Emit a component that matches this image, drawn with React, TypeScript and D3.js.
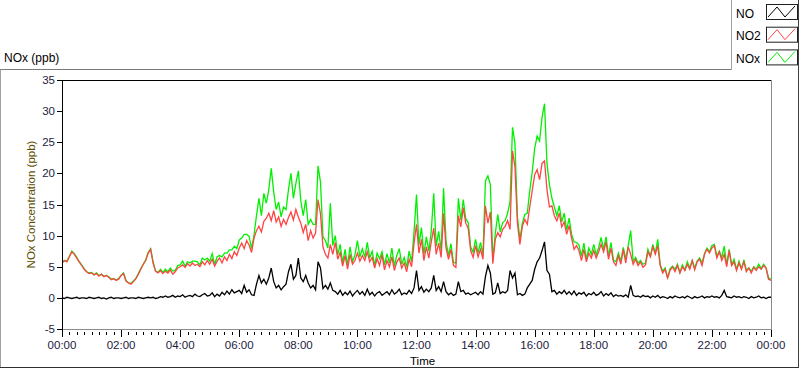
import React from 'react';
import * as d3 from 'd3';

// Sampling step of the series (minutes from 00:00)
const STEP_MINUTES = 5;

// NO (ppb), 12 values per hour + final value at 24:00
const NO_PPB = [
  0.0, -0.1, 0.1, 0.0, -0.1, 0.0, 0.1, -0.1, 0.0, 0.0, -0.1, 0.1,
  0.0, -0.1, 0.0, 0.1, -0.1, 0.0, -0.2, 0.0, 0.1, -0.1, 0.0, 0.0,
  -0.1, 0.0, 0.1, -0.1, 0.0, 0.0, -0.1, 0.1, 0.0, -0.1, 0.0, 0.1,
  0.0, 0.1, -0.1, 0.0, 0.2, 0.1, 0.3, 0.1, 0.2, 0.4, 0.1, 0.3,
  0.2, 0.5, 0.1, 0.3, 0.4, 0.2, 0.6, 0.3, 0.2, 0.5, 0.7, 0.3,
  0.4, 0.8, 0.2, 0.6, 0.3, 0.9, 0.5, 1.1, 0.6, 1.3, 0.8, 1.0,
  1.2, 0.7, 2.0, 0.9, 1.3, 0.5, 0.4, 2.2, 3.6, 2.4, 3.0, 2.2,
  3.2, 4.8, 2.6, 1.6, 2.0, 1.3, 1.8, 2.2, 4.2, 5.4, 3.0, 3.6,
  6.4, 3.2, 2.6, 3.6, 2.4, 1.6, 2.0, 1.3, 5.8, 4.8, 1.5, 2.0,
  1.4, 2.4, 1.2, 1.0, 0.6, 1.2, 0.4, 0.9, 0.5, 1.1, 0.3, 0.8,
  1.2, 0.6, 1.0, 0.4, 1.4, 0.5, 0.9, 0.3, 0.8, 1.0, 0.4, 0.7,
  1.0, 0.5, 1.3, 0.6, 0.9, 1.4, 0.5, 0.8, 0.6, 1.2, 0.7, 1.6,
  4.4, 1.2, 1.8, 0.9, 1.4, 1.0, 1.6, 3.6, 1.2, 1.8, 1.0, 2.6,
  1.0, 0.5, 0.8, 0.4, 0.6, 2.6, 1.0, 1.2, 0.6, 0.8, 0.5, 0.7,
  0.9, 0.5, 1.0, 0.6, 3.4, 5.2, 4.0, 0.6, 0.8, 2.4, 0.7, 1.0,
  0.8, 1.2, 4.4, 3.2, 4.0, 0.5, 0.7, 0.4, 0.6, 1.6, 2.2, 2.8,
  4.6, 5.8, 6.4, 7.6, 9.0, 4.4, 3.8, 1.0, 1.2, 0.6, 1.0, 0.7,
  1.2, 0.6, 1.0, 0.5, 1.1, 0.4, 0.8, 0.6, 0.9, 0.3, 0.7, 0.5,
  0.9, 0.4, 0.6, 1.0, 0.3, 0.7, 0.4, 0.8, 0.2, 0.5, 0.3, 0.4,
  0.2, 0.5, 0.1, 2.0, 0.4, 0.2, 0.3, 0.1, 0.4, 0.2, 0.3, 0.0,
  0.3, 0.1, 0.4, 0.0, 0.2, 0.1, -0.1, 0.2, 0.0, 0.3, 0.1, 0.0,
  0.2, 0.0, 0.3, 0.1, -0.1, 0.2, 0.0, 0.1, 0.3, 0.0, 0.2, 0.1,
  0.3, 0.1, 0.2, 0.0, 0.4, 1.2, 0.2, 0.1, 0.0, 0.3, 0.1, 0.2,
  0.0, 0.2, 0.1, -0.1, 0.2, 0.0, 0.1, 0.3, 0.0, 0.1, -0.1, 0.1,
  0.1,
];

// NO2 (ppb)
const NO2_PPB = [
  5.6, 6.0, 5.8, 6.6, 7.4, 7.0, 6.4, 5.8, 5.2, 4.6, 4.2, 3.9,
  4.0, 3.7, 3.9, 3.5, 3.8, 3.4, 3.6, 3.3, 2.9, 3.1, 2.8, 3.0,
  3.6, 3.9, 2.7, 2.4, 2.2, 2.6, 3.1, 3.8, 4.6, 5.4, 6.0, 7.2,
  7.8, 5.6, 4.3, 4.0, 4.4, 3.9, 4.3, 4.0, 4.5, 3.8, 4.2, 4.8,
  5.0, 5.3, 4.9, 5.5, 5.1, 5.6, 5.2, 5.4, 5.0, 5.8, 5.3, 6.0,
  5.4, 6.2, 5.1, 5.9, 6.4, 5.6, 6.6, 6.0, 7.0, 6.3, 7.4, 6.8,
  8.0, 8.8, 7.9, 9.2, 8.5, 7.3, 9.6, 10.8, 11.5, 10.6, 12.3, 12.8,
  13.6, 12.4, 14.0, 12.2, 13.0, 11.5, 12.6, 11.8, 12.9, 13.8, 12.5, 14.2,
  13.0, 12.0, 10.5, 11.8, 9.2, 10.8, 9.6, 10.4, 15.8, 13.5, 8.2, 7.0,
  6.4, 8.6, 7.0, 8.9, 6.2, 7.3, 5.1, 6.8, 4.6, 7.0, 5.4, 6.0,
  7.2, 5.9, 6.8, 6.0, 7.4, 5.8, 6.5, 4.8, 6.3, 5.2, 6.9, 4.5,
  6.0, 5.0, 6.6, 4.4, 5.8, 6.4, 4.8, 5.6, 4.2, 6.2, 5.0, 8.8,
  11.8, 7.2, 9.4, 6.0, 8.2, 6.4, 9.0, 11.2, 7.0, 8.8, 6.5, 13.6,
  8.0, 6.2, 7.8, 5.2, 4.9, 13.2, 11.4, 14.5, 12.0, 11.2, 7.6, 6.5,
  8.4, 6.6, 7.8, 6.2, 14.8, 12.0, 13.8, 5.5, 9.4, 10.5, 9.8, 11.0,
  11.5, 12.4, 11.0, 23.6, 21.0, 12.0, 8.6, 11.5, 12.6, 11.8, 14.6, 17.2,
  19.8, 20.6, 19.0, 21.6, 22.0, 17.4, 14.6, 14.8, 13.2, 12.4, 13.6, 11.4,
  12.2, 10.2, 11.6, 9.6, 7.8, 8.4, 7.6, 6.0, 7.8, 5.8, 7.2, 6.4,
  7.6, 6.4, 7.4, 8.6, 7.4, 9.0, 6.2, 8.0, 5.8, 5.2, 6.8, 5.4,
  7.8, 5.6, 8.2, 7.0, 5.4, 6.2, 5.2, 5.8, 4.9, 5.3, 7.4, 6.6,
  8.2, 7.0, 8.4, 5.2, 4.0, 4.6, 3.2, 4.4, 5.0, 4.2, 5.2, 4.0,
  5.0, 4.4, 5.4, 4.6, 6.0, 4.5, 5.8, 6.2, 5.2, 7.0, 7.8, 7.2,
  8.0, 8.4, 6.4, 7.4, 6.0, 7.0, 5.0, 7.6, 5.2, 5.8, 4.4, 5.6,
  4.6, 5.8, 4.2, 4.8, 4.0, 4.9, 4.4, 5.0, 4.6, 5.2, 4.8, 3.0,
  2.8,
];

// NOx (ppb)
const NOX_PPB = [
  5.7, 6.0, 5.9, 6.7, 7.5, 7.1, 6.5, 5.8, 5.3, 4.7, 4.2, 4.0,
  4.1, 3.7, 4.0, 3.6, 3.8, 3.5, 3.6, 3.4, 3.0, 3.1, 2.9, 3.1,
  3.6, 4.0, 2.8, 2.4, 2.3, 2.7, 3.1, 3.9, 4.7, 5.4, 6.1, 7.3,
  7.9, 5.8, 4.3, 4.1, 4.6, 4.1, 4.6, 4.2, 4.8, 4.3, 4.4, 5.2,
  5.3, 5.9, 5.1, 5.8, 5.6, 5.9, 5.9, 5.8, 5.3, 6.4, 6.1, 6.4,
  5.9, 7.1, 5.4, 6.6, 6.8, 6.6, 7.2, 7.2, 7.7, 7.7, 8.3, 7.9,
  9.3, 9.6, 10.2, 10.2, 9.9, 7.9, 10.1, 13.2, 16.0, 13.2, 16.8, 15.2,
  17.4, 20.8, 17.0, 14.2, 15.4, 13.0, 14.6, 14.2, 17.4, 20.0, 16.0, 18.4,
  20.4, 15.6, 13.2, 15.8, 11.8, 12.6, 11.8, 11.8, 21.2, 18.6, 9.8, 9.2,
  8.0, 15.2, 8.4, 10.0, 6.9, 8.6, 5.6, 7.8, 5.2, 8.2, 5.8, 6.9,
  9.2, 6.6, 7.9, 6.5, 8.9, 6.4, 7.5, 5.2, 7.2, 6.3, 7.4, 5.3,
  7.1, 5.6, 8.0, 5.1, 6.8, 7.9, 5.4, 6.5, 4.9, 7.5, 5.8, 10.6,
  16.6, 8.5, 11.3, 7.0, 9.8, 7.5, 10.7, 16.8, 8.3, 10.7, 7.6, 17.6,
  9.1, 6.8, 8.7, 5.7, 5.6, 16.0, 12.5, 15.8, 12.7, 12.1, 8.2, 7.3,
  9.4, 7.2, 8.9, 6.9, 18.8, 19.6, 18.2, 6.2, 10.3, 13.4, 10.6, 12.1,
  12.4, 13.6, 15.4, 27.4, 24.8, 13.0, 9.4, 12.0, 13.4, 13.6, 17.2, 20.2,
  24.0, 26.0, 25.2, 29.0, 31.2, 21.6, 18.2, 16.0, 14.6, 13.2, 14.8, 12.2,
  13.6, 10.9, 12.8, 10.2, 9.0, 8.9, 8.5, 6.7, 8.8, 6.2, 8.0, 7.0,
  8.6, 6.9, 8.1, 9.7, 7.8, 9.8, 6.7, 8.9, 6.1, 5.8, 7.2, 5.9,
  8.1, 6.2, 8.4, 10.8, 5.9, 6.5, 5.6, 6.0, 5.4, 5.6, 7.8, 6.7,
  8.6, 7.2, 9.4, 5.3, 4.3, 4.8, 3.2, 4.7, 5.1, 4.6, 5.4, 4.1,
  5.3, 4.5, 5.8, 4.8, 6.0, 4.8, 5.9, 6.4, 5.6, 7.1, 8.0, 7.4,
  8.4, 8.6, 6.7, 7.5, 6.5, 8.3, 5.3, 7.8, 5.3, 6.2, 4.6, 5.9,
  4.7, 6.1, 4.4, 4.8, 4.3, 5.0, 4.6, 5.4, 4.7, 5.4, 4.8, 3.2,
  3.0,
];

const X_TICK_LABELS = ['00:00', '02:00', '04:00', '06:00', '08:00', '10:00', '12:00',
  '14:00', '16:00', '18:00', '20:00', '22:00', '00:00'];
const Y_TICKS = [-5, 0, 5, 10, 15, 20, 25, 30, 35];
const LEGEND_NAMES = ['NO', 'NO2', 'NOx'];
const LEGEND_COLORS = ['#000000', '#ff4444', '#00f000'];

const FONT = '"Liberation Sans", Arial, sans-serif';
const PL = 62, PR = 771, PT = 80, PB = 329;

export default function App() {
  const x = d3.scaleLinear().domain([0, 1440]).range([PL, PR]);
  const y = d3.scaleLinear().domain([-5, 35]).range([PB, PT]);
  const line = d3.line<number>()
    .x((_, i) => x(i * STEP_MINUTES))
    .y((d) => y(d));

  const majorTicks = X_TICK_LABELS.map((_, i) => i * 120);
  const minorTicks = d3.range(0, 1441, 15).filter((m) => m % 120 !== 0);

  const series = [
    { data: NOX_PPB, color: LEGEND_COLORS[2] },
    { data: NO2_PPB, color: LEGEND_COLORS[1] },
    { data: NO_PPB, color: LEGEND_COLORS[0] },
  ];

  return (
    <svg width={800} height={369} style={{ position: 'absolute', left: 0, top: 0, background: '#fff' }}
      fontFamily={FONT}>
      <rect x={0} y={0} width={800} height={369} fill="#fff" />
      <defs>
        <clipPath id="plotclip">
          <rect x={PL} y={PT} width={PR - PL} height={PB - PT} />
        </clipPath>
      </defs>

      {/* outer frame */}
      <line x1={0} y1={69.5} x2={731} y2={69.5} stroke="#7a7a7a" />
      <line x1={0.5} y1={69.5} x2={0.5} y2={368} stroke="#a0a0a0" />
      <line x1={0} y1={367.5} x2={799} y2={367.5} stroke="#303030" />
      <line x1={798.5} y1={0} x2={798.5} y2={368} stroke="#404040" />
      {/* legend box */}
      <line x1={731.5} y1={0} x2={731.5} y2={70} stroke="#a0a0a0" />

      {/* title */}
      <text x={4} y={62} fontSize={12} fill="#000">NOx (ppb)</text>

      {/* legend */}
      {LEGEND_NAMES.map((name, i) => {
        const top = 4 + i * 22.7;
        const bx = 766, bw = 31, bh = 15;
        return (
          <g key={name}>
            <text x={736} y={top + 13.5} fontSize={12} fill="#000">{name}</text>
            <rect x={bx + 0.5} y={top + 0.5} width={bw} height={bh} fill="#fff" stroke="#202020" />
            <polyline
              points={`${bx + 2},${top + 13} ${bx + 11},${top + 3} ${bx + 19},${top + 13} ${bx + 29},${top + 2}`}
              fill="none" stroke={LEGEND_COLORS[i]} strokeWidth={1} />
          </g>
        );
      })}

      {/* series */}
      <g clipPath="url(#plotclip)">
        {series.map((s, i) => (
          <path key={i} d={line(s.data) || ''} fill="none" stroke={s.color} strokeWidth={1.3}
            strokeLinejoin="miter" />
        ))}
      </g>

      {/* plot frame */}
      <line x1={PL} y1={PT + 0.5} x2={PR} y2={PT + 0.5} stroke="#000" />
      <line x1={PR + 0.5} y1={PT} x2={PR + 0.5} y2={PB} stroke="#8c8c8c" />
      <line x1={PL} y1={PB + 0.5} x2={PR + 1} y2={PB + 0.5} stroke="#8c8c8c" />
      <line x1={PL + 0.5} y1={PT} x2={PL + 0.5} y2={PB + 1} stroke="#000" />

      {/* y axis */}
      {Y_TICKS.map((v) => (
        <g key={v}>
          <line x1={57} x2={PL} y1={Math.round(y(v)) + 0.5} y2={Math.round(y(v)) + 0.5} stroke="#000" />
          <text x={55} y={y(v) + 4} fontSize={11.5} textAnchor="end" fill="#1c1c40">{v}</text>
        </g>
      ))}
      <text transform={`translate(35,${(PT + PB) / 2}) rotate(-90)`} fontSize={11.5} textAnchor="middle"
        fill="#5e4e00">NOx Concentration (ppb)</text>

      {/* x axis */}
      {minorTicks.map((m) => (
        <line key={'m' + m} x1={Math.round(x(m)) + 0.5} x2={Math.round(x(m)) + 0.5} y1={PB + 3} y2={PB + 6}
          stroke="#000" />
      ))}
      {majorTicks.map((m, i) => (
        <g key={'M' + i}>
          <line x1={Math.round(x(m)) + 0.5} x2={Math.round(x(m)) + 0.5} y1={PB + 1} y2={PB + 8} stroke="#000" />
          <text x={x(m)} y={349} fontSize={11.5} textAnchor="middle" fill="#1c1c40">{X_TICK_LABELS[i]}</text>
        </g>
      ))}
      <text x={410} y={365} fontSize={11.5} fill="#000">Time</text>
    </svg>
  );
}
